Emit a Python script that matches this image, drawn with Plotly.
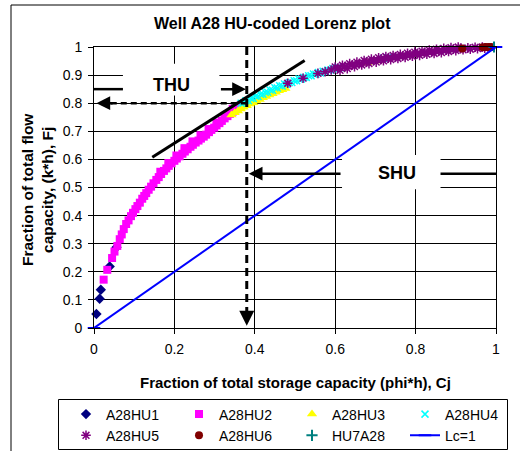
import plotly.graph_objects as go

FONT = "Liberation Sans, Arial, sans-serif"

# ---------------- data ----------------
hu1_pts = [(0.006, 0.050), (0.014, 0.104), (0.017, 0.136), (0.039, 0.219), (0.056, 0.287)]

hu2_pts = [
    (0.024, 0.172), (0.033, 0.207), (0.045, 0.249), (0.051, 0.272), (0.058, 0.292),
    (0.064, 0.316), (0.069, 0.333), (0.074, 0.352), (0.080, 0.370), (0.086, 0.383),
    (0.092, 0.398), (0.097, 0.410), (0.103, 0.423), (0.108, 0.434), (0.114, 0.446),
    (0.120, 0.460), (0.125, 0.470), (0.130, 0.480), (0.136, 0.492), (0.142, 0.503),
    (0.148, 0.515), (0.155, 0.527), (0.161, 0.537), (0.167, 0.548), (0.174, 0.559),
    (0.180, 0.568), (0.186, 0.577), (0.193, 0.586), (0.200, 0.595), (0.206, 0.603),
    (0.213, 0.611), (0.220, 0.620), (0.226, 0.628), (0.233, 0.636), (0.240, 0.645),
    (0.246, 0.652), (0.253, 0.660), (0.260, 0.667), (0.266, 0.674), (0.273, 0.681),
    (0.279, 0.688), (0.286, 0.697), (0.292, 0.705), (0.299, 0.713), (0.305, 0.721),
    (0.312, 0.729), (0.318, 0.737), (0.325, 0.746), (0.332, 0.754), (0.338, 0.762),
    (0.345, 0.770), (0.352, 0.778), (0.358, 0.785), (0.364, 0.791),
    (0.165, 0.556), (0.185, 0.587), (0.205, 0.614), (0.225, 0.640), (0.245, 0.664),
    (0.265, 0.686), (0.285, 0.708), (0.305, 0.731), (0.325, 0.755), (0.345, 0.780),
]

hu3_pts = [
    (0.342, 0.758), (0.350, 0.766), (0.358, 0.772), (0.365, 0.779), (0.372, 0.786),
    (0.380, 0.791), (0.388, 0.797), (0.396, 0.802), (0.404, 0.808), (0.412, 0.813),
    (0.420, 0.819), (0.428, 0.824), (0.436, 0.829), (0.444, 0.834), (0.452, 0.839),
    (0.460, 0.844), (0.468, 0.848), (0.476, 0.852), (0.680, 0.943), (0.705, 0.950),
]

hu4_pts = [
    (0.366, 0.800), (0.372, 0.801), (0.378, 0.809), (0.384, 0.809), (0.390, 0.817),
    (0.396, 0.817), (0.402, 0.825), (0.408, 0.824), (0.414, 0.832), (0.420, 0.832),
    (0.426, 0.839), (0.432, 0.839), (0.438, 0.847), (0.444, 0.846), (0.450, 0.855),
    (0.456, 0.854), (0.462, 0.862), (0.468, 0.861), (0.474, 0.868), (0.480, 0.867),
    (0.486, 0.874), (0.492, 0.874), (0.498, 0.880), (0.504, 0.880), (0.510, 0.886),
    (0.516, 0.886), (0.522, 0.892), (0.528, 0.892), (0.534, 0.898), (0.540, 0.898),
    (0.546, 0.904), (0.552, 0.903), (0.558, 0.909), (0.564, 0.908), (0.570, 0.914),
    (0.576, 0.913), (0.582, 0.918), (0.588, 0.917), (0.594, 0.923), (0.600, 0.922),
    (0.606, 0.927), (0.612, 0.926), (0.720, 0.960), (0.730, 0.962),
]

hu5_pts = [
    (0.482, 0.871), (0.520, 0.889), (0.557, 0.906), (0.575, 0.912), (0.590, 0.918),
    (0.600, 0.929), (0.606, 0.924), (0.612, 0.917), (0.618, 0.935), (0.624, 0.930),
    (0.630, 0.923), (0.636, 0.941), (0.642, 0.936), (0.648, 0.930), (0.654, 0.946),
    (0.660, 0.941), (0.666, 0.936), (0.672, 0.952), (0.678, 0.946), (0.684, 0.941),
    (0.690, 0.957), (0.696, 0.952), (0.702, 0.946), (0.708, 0.962), (0.714, 0.956),
    (0.720, 0.951), (0.726, 0.966), (0.732, 0.960), (0.738, 0.955), (0.744, 0.970),
    (0.750, 0.965), (0.756, 0.959), (0.762, 0.974), (0.768, 0.968), (0.774, 0.963),
    (0.780, 0.978), (0.786, 0.972), (0.792, 0.967), (0.798, 0.982), (0.804, 0.976),
    (0.810, 0.970), (0.816, 0.985), (0.822, 0.980), (0.828, 0.974), (0.834, 0.989),
    (0.840, 0.983), (0.846, 0.977), (0.852, 0.992), (0.858, 0.986), (0.864, 0.980),
    (0.870, 0.995), (0.876, 0.989), (0.882, 0.984), (0.888, 0.998), (0.894, 0.992),
    (0.900, 0.987), (0.906, 1.000), (0.912, 0.995), (0.918, 0.990), (0.924, 1.002),
    (0.930, 0.997), (0.936, 0.992), (0.942, 1.003), (0.948, 0.999), (0.954, 0.994),
    (0.960, 1.004), (0.966, 1.000), (0.972, 0.996),
]

hu6_pts = [(0.916, 0.995), (0.967, 0.999), (0.975, 1.000), (0.982, 1.000), (0.988, 1.000)]
hu7_pts = [(0.995, 1.000)]
lc_x = [0.0, 1.0]
lc_y = [0.0, 1.0]

x_ticks = [0, 0.2, 0.4, 0.6, 0.8, 1]
y_ticks = [0, 0.1, 0.2, 0.3, 0.4, 0.5, 0.6, 0.7, 0.8, 0.9, 1]

# annotation geometry (data units)
cut_x = 0.38          # vertical dashed cutoff
cut_y = 0.80          # horizontal dashed cutoff
thu_y = 0.85
shu_y = 0.549
tangent = ((0.145, 0.608), (0.524, 0.952))


def split(pts):
    return [p[0] for p in pts], [p[1] for p in pts]


def px_x(px):
    return (px - 94) / 402


def px_y(py):
    return (328 - py) / 281


fig = go.Figure()

series = [
    ("A28HU1", hu1_pts, dict(symbol="diamond", size=8, color="#000080")),
    ("A28HU2", hu2_pts, dict(symbol="square", size=8, color="#FF00FF")),
    ("A28HU3", hu3_pts, dict(symbol="triangle-up", size=9, color="#FFFF00")),
    ("A28HU4", hu4_pts, dict(symbol="x-thin-open", size=7, color="#00FFFF",
                             line=dict(color="#00FFFF", width=1.5))),
    ("A28HU5", hu5_pts, dict(symbol="asterisk-open", size=8, color="#800080",
                             line=dict(color="#800080", width=1.5))),
    ("A28HU6", hu6_pts, dict(symbol="circle", size=8, color="#800000")),
    ("HU7A28", hu7_pts, dict(symbol="cross-thin-open", size=8, color="#008080",
                             line=dict(color="#008080", width=2))),
]
for name, pts, mk in series:
    xs, ys = split(pts)
    fig.add_trace(go.Scatter(x=xs, y=ys, mode="markers", name=name, marker=mk,
                             cliponaxis=False))

fig.add_trace(go.Scatter(
    x=lc_x, y=lc_y, mode="lines+markers", name="Lc=1",
    line=dict(color="#0000FF", width=2),
    marker=dict(symbol="line-ew-open", size=9, color="#0000FF",
                line=dict(color="#0000FF", width=2)),
    cliponaxis=False))

shapes = []
shapes.append(dict(type="rect", xref="x", yref="y", x0=0.072, x1=0.312, y0=0.827, y1=0.94,
                   fillcolor="white", line=dict(width=0), layer="between"))
shapes.append(dict(type="rect", xref="x", yref="y", x0=0.617, x1=0.862, y0=0.494, y1=0.616,
                   fillcolor="white", line=dict(width=0), layer="between"))
shapes.append(dict(type="line", xref="x", yref="y", x0=0.0, x1=0.072, y0=thu_y, y1=thu_y,
                   line=dict(color="black", width=2.5), layer="above"))
shapes.append(dict(type="line", xref="x", yref="y", x0=0.862, x1=1.0, y0=shu_y, y1=shu_y,
                   line=dict(color="black", width=2.5), layer="above"))
shapes.append(dict(type="line", xref="x", yref="y", x0=tangent[0][0], y0=tangent[0][1],
                   x1=tangent[1][0], y1=tangent[1][1],
                   line=dict(color="black", width=3), layer="above"))
shapes.append(dict(type="line", xref="x", yref="y", x0=cut_x, x1=cut_x, y0=1.0, y1=0.05,
                   line=dict(color="black", width=3, dash="8px,5px"), layer="above"))
shapes.append(dict(type="line", xref="x", yref="y", x0=cut_x, x1=0.04, y0=cut_y, y1=cut_y,
                   line=dict(color="black", width=2.5, dash="6px,4px"), layer="above"))
# outer chart frame (left + top)
shapes.append(dict(type="line", xref="paper", yref="paper",
                   x0=px_x(11), x1=px_x(11), y0=px_y(5), y1=px_y(455),
                   line=dict(color="black", width=1)))
shapes.append(dict(type="line", xref="paper", yref="paper",
                   x0=px_x(11), x1=px_x(520), y0=px_y(5), y1=px_y(5),
                   line=dict(color="black", width=1)))
# legend frame
shapes.append(dict(type="rect", xref="paper", yref="paper",
                   x0=px_x(58.5), x1=px_x(507.5), y0=px_y(399.5), y1=px_y(449.5),
                   fillcolor="white", line=dict(color="black", width=1), layer="above"))

arrow_common = dict(xref="x", yref="y", axref="x", ayref="y", text="", showarrow=True,
                    arrowhead=2, arrowcolor="black", standoff=0)
annotations = [
    dict(x=cut_x - 0.002, y=thu_y, ax=0.312, ay=thu_y, arrowwidth=2.5, arrowsize=1.1, **arrow_common),
    dict(x=cut_x + 0.005, y=shu_y, ax=0.617, ay=shu_y, arrowwidth=2.5, arrowsize=1.1, **arrow_common),
    dict(x=cut_x, y=0.008, ax=cut_x, ay=0.06, arrowwidth=3, arrowsize=1.0, **arrow_common),
    dict(x=0.006, y=cut_y, ax=0.05, ay=cut_y, arrowwidth=2.5, arrowsize=1.1, **arrow_common),
    dict(x=0.192, y=0.866, xref="x", yref="y", text="<b>THU</b>", showarrow=False,
         font=dict(family=FONT, size=18, color="black")),
    dict(x=0.754, y=0.552, xref="x", yref="y", text="<b>SHU</b>", showarrow=False,
         font=dict(family=FONT, size=18, color="black")),
    dict(x=px_x(272), y=px_y(23), xref="paper", yref="paper",
         text="<b>Well A28 HU-coded Lorenz plot</b>",
         showarrow=False, xanchor="center", yanchor="middle",
         font=dict(family=FONT, size=16, color="black")),
    dict(x=0.5, y=px_y(382), xref="paper", yref="paper",
         text="<b>Fraction of total storage capacity (phi*h), Cj</b>", showarrow=False,
         xanchor="center", yanchor="middle", font=dict(family=FONT, size=15, color="black")),
    dict(x=px_x(37), y=px_y(190), xref="paper", yref="paper",
         text="<b>Fraction of total flow<br>capacity, (k*h), Fj</b>", showarrow=False,
         textangle=-90, xanchor="center", yanchor="middle",
         font=dict(family=FONT, size=15.5, color="black")),
]

axis_common = dict(showgrid=True, gridcolor="#000000", gridwidth=1, showline=True,
                   linecolor="black", linewidth=1, mirror=True, ticks="outside", ticklen=5,
                   tickcolor="black", tickfont=dict(family=FONT, size=14, color="black"),
                   ticklabelstandoff=3, zeroline=False, fixedrange=True)

fig.update_layout(
    width=526, height=451,
    margin=dict(l=94, r=30, t=47, b=123, autoexpand=False),
    paper_bgcolor="white", plot_bgcolor="white",
    xaxis=dict(range=[0, 1], tickvals=x_ticks, ticktext=[f"{v:g}" for v in x_ticks], **axis_common),
    yaxis=dict(range=[0, 1], tickvals=y_ticks, ticktext=[f"{v:g}" for v in y_ticks], **axis_common),
    shapes=shapes,
    annotations=annotations,
    showlegend=True,
    legend=dict(orientation="h", x=px_x(66), y=px_y(398.5), xanchor="left", yanchor="top",
                bgcolor="rgba(0,0,0,0)", borderwidth=0,
                entrywidth=68, entrywidthmode="pixels",
                font=dict(family=FONT, size=14, color="black"),
                tracegroupgap=0),
    font=dict(family=FONT, color="black"),
)

fig.write_html("out.html", config={"displayModeBar": False},
               post_script="document.body.style.margin='0';document.body.style.padding='0';")
